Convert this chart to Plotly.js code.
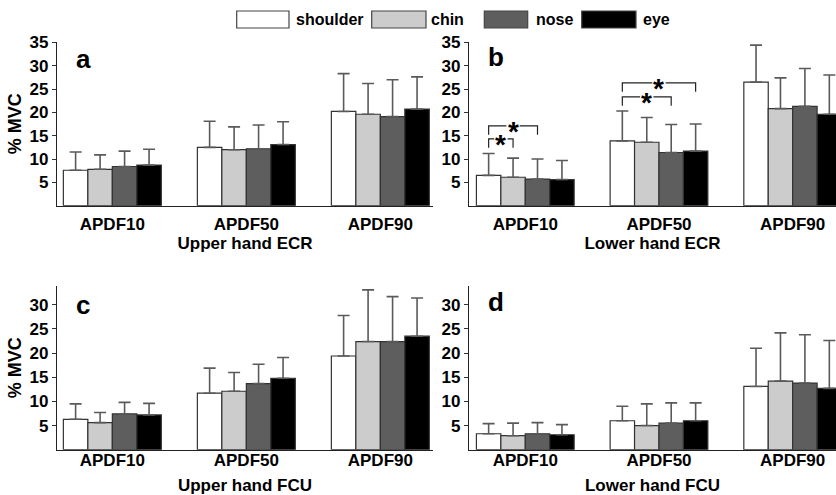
<!DOCTYPE html>
<html>
<head>
<meta charset="utf-8">
<script src="https://cdn.plot.ly/plotly-3.0.1.min.js"></script>
<style>html,body{margin:0;padding:0;background:#fff}#chart{width:836px;height:495px}</style>
</head>
<body>
<div id="chart"></div>
<script>
// ---- data ----
const categories = ["APDF10", "APDF50", "APDF90"];
const seriesNames = ["shoulder", "chin", "nose", "eye"];
const panelTitles = ["Upper hand ECR", "Lower hand ECR", "Upper hand FCU", "Lower hand FCU"];
const panelLetters = ["a", "b", "c", "d"];

// panel a: Upper hand ECR (mean, SD)
const aShoulder = [7.6, 12.5, 20.2], aShoulderSD = [3.9, 5.6, 8.1];
const aChin     = [7.8, 12.0, 19.6], aChinSD     = [3.1, 4.9, 6.6];
const aNose     = [8.4, 12.2, 19.1], aNoseSD     = [3.3, 5.1, 7.9];
const aEye      = [8.7, 13.1, 20.7], aEyeSD      = [3.4, 4.9, 6.9];
// panel b: Lower hand ECR
const bShoulder = [6.5, 13.9, 26.5], bShoulderSD = [4.7, 6.4, 7.9];
const bChin     = [6.1, 13.6, 20.8], bChinSD     = [4.1, 5.3, 6.6];
const bNose     = [5.7, 11.4, 21.3], bNoseSD     = [4.3, 6.0, 8.1];
const bEye      = [5.6, 11.7, 19.6], bEyeSD      = [4.1, 5.8, 8.4];
// panel c: Upper hand FCU
const cShoulder = [6.3, 11.7, 19.4], cShoulderSD = [3.2, 5.2, 8.4];
const cChin     = [5.6, 12.1, 22.4], cChinSD     = [2.1, 3.9, 10.7];
const cNose     = [7.4, 13.7, 22.4], cNoseSD     = [2.4, 4.0, 9.3];
const cEye      = [7.2, 14.8, 23.5], cEyeSD      = [2.4, 4.3, 7.9];
// panel d: Lower hand FCU
const dShoulder = [3.3, 6.0, 13.1], dShoulderSD = [2.1, 3.0, 7.9];
const dChin     = [2.9, 5.0, 14.2], dChinSD     = [2.6, 4.5, 10.0];
const dNose     = [3.3, 5.5, 13.8], dNoseSD     = [2.3, 4.2, 10.0];
const dEye      = [3.1, 6.0, 12.7], dEyeSD      = [2.1, 3.7, 9.9];

const yTicksTop = [5, 10, 15, 20, 25, 30, 35];
const yTicksBottom = [5, 10, 15, 20, 25, 30];

// significance brackets in panel b: [category, fromSeries, toSeries, yLevel]
const sigCategory = [0, 0, 1, 1];
const sigFrom     = [0, 0, 0, 0];
const sigTo       = [1, 2, 2, 3];
const sigLevel    = [14.3, 17.1, 23.3, 26.3];

// ---- build ----
const panels = [
  {means: [aShoulder, aChin, aNose, aEye], sds: [aShoulderSD, aChinSD, aNoseSD, aEyeSD]},
  {means: [bShoulder, bChin, bNose, bEye], sds: [bShoulderSD, bChinSD, bNoseSD, bEyeSD]},
  {means: [cShoulder, cChin, cNose, cEye], sds: [cShoulderSD, cChinSD, cNoseSD, cEyeSD]},
  {means: [dShoulder, dChin, dNose, dEye], sds: [dShoulderSD, dChinSD, dNoseSD, dEyeSD]}
];
const fills = ["#ffffff", "#cccccc", "#5e5e5e", "#000000"];
const W = 836, H = 495;
const FONT = "Liberation Sans, Arial, sans-serif";

const traces = [];
panels.forEach((p, pi) => {
  const ax = pi === 0 ? "" : String(pi + 1);
  p.means.forEach((m, si) => {
    traces.push({
      type: "bar",
      name: seriesNames[si],
      x: categories,
      y: m,
      xaxis: "x" + ax,
      yaxis: "y" + ax,
      showlegend: false,
      marker: {color: fills[si], line: {color: "#333333", width: 1.2}},
      error_y: {type: "data", array: p.sds[si], arrayminus: m.map(() => 0), symmetric: false,
                color: "#5a5a5a", thickness: 1.6, width: 6}
    });
  });
});

function xr(px) { return px / W; }
function yr(py) { return 1 - py / H; }

const xDomL = [xr(57), xr(433)], xDomR = [xr(469), 1];
const yDomT = [yr(205.7), yr(42)], yDomB = [yr(449.7), yr(286)];
const xRangeL = [-0.413, 2.393], xRangeR = [-0.421, 2.324];

function xAxis(dom, rng, title, lblOff, titleOff, anchor) {
  return {
    domain: dom, range: rng, type: "category", anchor: anchor,
    showline: true, linecolor: "#222", linewidth: 1.2,
    ticks: "", showgrid: false, zeroline: false, fixedrange: true,
    tickfont: {family: FONT, size: 17, color: "#000", weight: "bold"},
    ticklabelstandoff: lblOff,
    title: {text: title, font: {family: FONT, size: 17, color: "#000", weight: "bold"}, standoff: titleOff},
    automargin: false
  };
}
function yAxis(dom, rng, ticks, anchor, title) {
  const a = {
    domain: dom, range: rng, anchor: anchor, showline: true, linecolor: "#222", linewidth: 1.2,
    ticks: "outside", ticklen: 4, tickcolor: "#333", tickwidth: 1, tickvals: ticks,
    showgrid: false, zeroline: false, fixedrange: true,
    tickfont: {family: FONT, size: 17, color: "#000", weight: "bold"},
    automargin: false
  };
  if (title) a.title = {text: title, font: {family: FONT, size: 18, color: "#000", weight: "bold"}, standoff: 3};
  return a;
}

const layout = {
  width: W, height: H, margin: {l: 0, r: 0, t: 0, b: 0},
  paper_bgcolor: "#fff", plot_bgcolor: "rgba(0,0,0,0)",
  barmode: "group", bargap: 0.269, bargroupgap: 0,
  font: {family: FONT},
  showlegend: false,
  xaxis:  xAxis(xDomL, xRangeL, panelTitles[0], 3, 0, "y"),
  yaxis:  yAxis(yDomT, [0, 35.08], yTicksTop, "x", "% MVC"),
  xaxis2: xAxis(xDomR, xRangeR, panelTitles[1], 3, 0, "y2"),
  yaxis2: yAxis(yDomT, [0, 35.08], yTicksTop, "x2"),
  xaxis3: xAxis(xDomL, xRangeL, panelTitles[2], -5, 10, "y3"),
  yaxis3: yAxis(yDomB, [0, 33.9], yTicksBottom, "x3", "% MVC"),
  xaxis4: xAxis(xDomR, xRangeR, panelTitles[3], -5, 10, "y4"),
  yaxis4: yAxis(yDomB, [0, 33.9], yTicksBottom, "x4"),
  shapes: [],
  annotations: []
};

// panel letters
const letterPos = [[83, 59], [496, 57], [83, 305], [496, 302]];
panelLetters.forEach((L, i) => {
  layout.annotations.push({text: L, xref: "paper", yref: "paper", x: xr(letterPos[i][0]), y: yr(letterPos[i][1]),
    xanchor: "center", yanchor: "middle", showarrow: false,
    font: {family: FONT, size: 26, color: "#000", weight: "bold"}});
});

// legend (boxes + labels)
const legBox = [[236.7, 289], [371.7, 426], [484.3, 527.7], [581.7, 636]];
const legText = [294, 429, 534, 641];
seriesNames.forEach((n, i) => {
  layout.shapes.push({type: "rect", xref: "paper", yref: "paper",
    x0: xr(legBox[i][0]), x1: xr(legBox[i][1]), y0: yr(28), y1: yr(11),
    fillcolor: fills[i], line: {color: "#444", width: 1.2}});
  layout.annotations.push({text: n, xref: "paper", yref: "paper", x: xr(legText[i]), y: yr(19.5),
    xanchor: "left", yanchor: "middle", showarrow: false,
    font: {family: FONT, size: 16, color: "#000", weight: "bold"}});
});

// significance brackets (panel b), horizontal line broken around the star
const groupW = 1 - 0.269, barW = groupW / 4, starGap = 0.05;
function barCenter(cat, s) { return cat - groupW / 2 + barW * (s + 0.5); }
for (let k = 0; k < sigLevel.length; k++) {
  const x0 = barCenter(sigCategory[k], sigFrom[k]);
  const x1 = barCenter(sigCategory[k], sigTo[k]);
  const xm = (x0 + x1) / 2;
  const yv = sigLevel[k], leg = 1.9;
  layout.shapes.push({type: "path", xref: "x2", yref: "y2",
    path: `M ${x0} ${yv - leg} L ${x0} ${yv} L ${xm - starGap} ${yv}`,
    line: {color: "#222", width: 1.2}});
  layout.shapes.push({type: "path", xref: "x2", yref: "y2",
    path: `M ${xm + starGap} ${yv} L ${x1} ${yv} L ${x1} ${yv - leg}`,
    line: {color: "#222", width: 1.2}});
  layout.annotations.push({text: "*", xref: "x2", yref: "y2", x: xm, y: yv,
    xanchor: "center", yanchor: "middle", yshift: -6, showarrow: false,
    font: {family: FONT, size: 28, color: "#000", weight: "bold"}});
}

Plotly.newPlot("chart", traces, layout, {displayModeBar: false, staticPlot: true});
</script>
</body>
</html>
